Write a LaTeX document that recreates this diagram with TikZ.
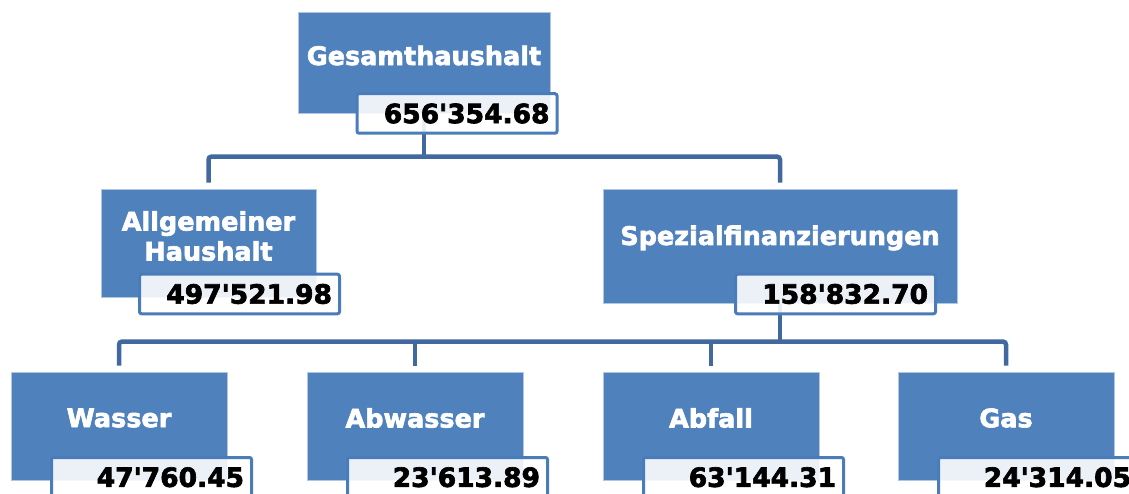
\documentclass[tikz,border=0pt]{standalone}
\usepackage{fontspec}
\setmainfont{DejaVu Sans}[Ligatures=TeXOff, BoldFeatures={FakeBold=2.5}]
\usetikzlibrary{backgrounds}
\definecolor{boxblue}{HTML}{4F81BD}
\definecolor{lineblue}{HTML}{41699F}
\definecolor{valborder}{HTML}{4A7CB9}
\tikzset{
  box/.style={fill=boxblue, draw=white!55!boxblue, line width=0.8pt, inner sep=0pt},
  lbl/.style={text=white, font=\fontsize{25.5}{30}\selectfont\bfseries, align=center, inner sep=0pt},
  val/.style={draw=valborder, line width=3pt, rounded corners=2pt,
    fill=white, fill opacity=0.89, text opacity=1,
    minimum width=200pt, minimum height=39.5pt, inner xsep=7.5pt, inner ysep=0pt,
    text width=185pt, align=right, text height=19.3pt, text depth=0pt,
    font=\fontsize{26.5}{30}\selectfont\bfseries},
  conn/.style={draw=lineblue, line width=4.5pt, rounded corners=3pt}
}
\begin{document}
\begin{tikzpicture}[x=1pt,y=1pt]
\useasboundingbox (0,0) rectangle (1129,493);
% level 1
\node[box, minimum width=252pt, minimum height=101pt] (g) at (424,430.5) {};
\node[lbl] (gl) at ([yshift=7pt]g.center) {Gesamthaushalt};
\node[val] (gv) at (457,379.5) {656'354.68};
% level 2
\node[box, minimum width=215pt, minimum height=108pt] (a) at (208.5,250) {};
\node[lbl] (al) at ([yshift=7pt]a.center) {Allgemeiner\\Haushalt};
\node[val] (av) at (239.5,199) {497'521.98};
\node[box, minimum width=354pt, minimum height=114pt] (s) at (780,247) {};
\node[lbl] (sl) at ([yshift=8pt]s.center) {Spezialfinanzierungen};
\node[val] (sv) at (835.5,199) {158'832.70};
% level 3
\foreach \n/\cx/\t/\v in {w/119/Wasser/47'760.45, ab/415/Abwasser/23'613.89, af/711/Abfall/63'144.31, ga/1006/Gas/24'314.05}{
  \node[box, minimum width=216pt, minimum height=108pt] (\n) at (\cx,67) {};
  \node[lbl] (\n l) at ([yshift=8pt]\n.center) {\t};
  \node[val] (\n v) at ([xshift=32.5pt,yshift=-51.25pt]\n.center) {\v};
}
\begin{scope}[on background layer]
\draw[conn] (g.south) -- ([yshift=32pt]a.north -| g.south);
\draw[conn] ([yshift=6pt]a.north) |- ([yshift=32pt]s.north) -- ([yshift=6pt]s.north);
\draw[conn] (s.south) -- ([yshift=30pt]w.north -| s.south);
\draw[conn] ([yshift=6pt]w.north) |- ([yshift=30pt]ga.north) -- ([yshift=6pt]ga.north);
\foreach \n in {ab,af}{
  \draw[conn] ([yshift=30pt]\n.north) -- ([yshift=6pt]\n.north);
}
\end{scope}
\end{tikzpicture}
\end{document}
